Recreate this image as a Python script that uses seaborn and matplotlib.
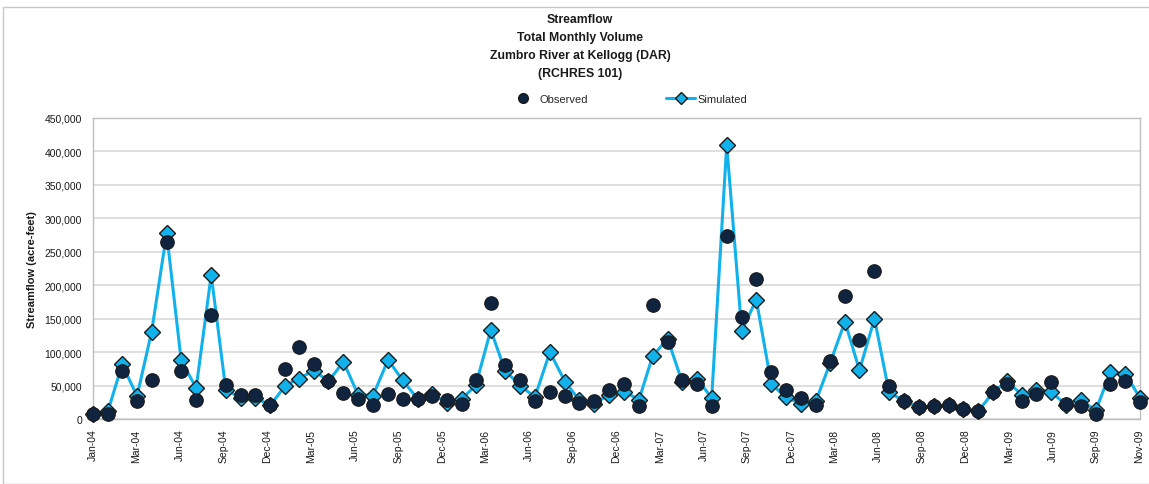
import pandas as pd
import matplotlib.pyplot as plt
import matplotlib.dates as mdates
from matplotlib.ticker import FuncFormatter, MultipleLocator
from matplotlib.lines import Line2D
from matplotlib.patches import Rectangle
import seaborn as sns

# Monthly totals, Jan 2004 - Dec 2009 (acre-feet)
observed = [7000, 8000, 72500, 27500, 59000, 264000, 72500, 29000, 155000, 51500, 36500, 36500,
            20500, 75000, 107500, 81500, 56500, 38500, 30000, 21500, 37500, 30500, 30000, 34000,
            28000, 23000, 58000, 174000, 80500, 58000, 27500, 40000, 35000, 24000, 26500, 43000,
            53000, 20000, 170500, 115500, 59000, 52500, 20000, 274000, 153000, 210000, 70000, 44000,
            31500, 21500, 86500, 183500, 117500, 221500, 50000, 26500, 17500, 19000, 20500, 15000,
            11500, 40000, 53000, 26500, 38000, 55500, 23000, 19000, 8000, 52500, 56500, 25500]
simulated = [7000, 12000, 81500, 34500, 130500, 277500, 87500, 46500, 215500, 44000, 31500, 31500,
             20500, 50000, 60500, 72500, 56500, 85500, 36500, 35000, 88500, 58000, 30000, 37500,
             24000, 30500, 50500, 133000, 71500, 50000, 32500, 100000, 56000, 28000, 23000, 36500,
             41000, 29000, 94000, 120000, 55500, 60000, 31500, 410000, 131500, 178500, 52500, 32500,
             23000, 26500, 83000, 145500, 73000, 150000, 40000, 26500, 17500, 19000, 20500, 15000,
             11500, 40000, 56500, 36500, 44000, 40000, 21500, 28000, 13000, 70500, 67500, 31500]
months = pd.date_range("2004-01-01", periods=len(observed), freq="MS")

title_lines = ["Streamflow", "Total Monthly Volume", "Zumbro River at Kellogg (DAR)", "(RCHRES 101)"]

SIM_BLUE = "#11B2EC"
OBS_NAVY = "#10233F"
GRID_GRAY = "#D9D9D9"
TEXT = "#1A1A1A"

df = pd.DataFrame({"month": months, "Observed": observed, "Simulated": simulated})

sns.set_style("white")
plt.rcParams["font.family"] = ["Liberation Sans Narrow", "Liberation Sans", "DejaVu Sans"]

fig = plt.figure(figsize=(11.49, 4.85), dpi=100)
W, H = 1149, 485
ax = fig.add_axes([93 / W, 1 - 420 / H, (1140 - 93) / W, (420 - 119) / H])

# thin chart-area border like the Excel export
fig.patches.append(Rectangle((3 / W, 0), 1.0, 1 - 8 / H, transform=fig.transFigure,
                             fill=False, edgecolor="#C8C8C8", linewidth=1.0))

# simulated line with diamonds, observed dots on top
sns.lineplot(data=df, x="month", y="Simulated", ax=ax, color=SIM_BLUE, linewidth=2.2,
             marker="D", markersize=8, markerfacecolor=SIM_BLUE, markeredgecolor="#1A1A1A",
             markeredgewidth=1.0, clip_on=False, zorder=3)
sns.scatterplot(data=df, x="month", y="Observed", ax=ax, color=OBS_NAVY, s=95,
                edgecolor="#1A1A1A", linewidth=0.8, clip_on=False, zorder=4)

# axis: ticks every 90 days from the first month (Excel date axis)
start = months[0]
xticks = [start + pd.Timedelta(days=90 * k) for k in range(25)]
ax.set_xticks(xticks)
ax.xaxis.set_major_formatter(mdates.DateFormatter("%b-%y"))
ax.set_xlim(start, months[-1])
ax.set_ylim(0, 450000)
ax.yaxis.set_major_locator(MultipleLocator(50000))
ax.yaxis.set_major_formatter(FuncFormatter(lambda v, p: f"{int(v):,}"))

ax.grid(axis="y", color=GRID_GRAY, linewidth=1.2)
ax.set_axisbelow(True)
for side in ["top", "right", "left", "bottom"]:
    ax.spines[side].set_color("#BFBFBF")
    ax.spines[side].set_linewidth(1.0)

ax.tick_params(axis="x", rotation=90, labelsize=7.5, colors="#BFBFBF", labelcolor=TEXT,
               length=5, width=1, direction="out", pad=2)
ax.tick_params(axis="y", labelsize=7.5, colors="#BFBFBF", labelcolor=TEXT,
               length=5, width=1, direction="out", pad=3)
ax.set_xlabel("")
ax.set_ylabel("Streamflow (acre-feet)", fontsize=8, fontweight="bold", color=TEXT, labelpad=5)

fig.text(580 / W, 1 - 47 / H, "\n".join(title_lines), ha="center", va="center",
         fontsize=8.8, fontweight="bold", color=TEXT, linespacing=1.65)

# legend across the top
handles = [
    Line2D([], [], linestyle="none", marker="o", markersize=7, markerfacecolor=OBS_NAVY,
           markeredgecolor="#1A1A1A"),
    Line2D([], [], color=SIM_BLUE, linewidth=2.2, marker="D", markersize=6,
           markerfacecolor=SIM_BLUE, markeredgecolor="#1A1A1A"),
]
fig.legend(handles, ["Observed", "Simulated"], loc="center", bbox_to_anchor=(628 / W, 1 - 100 / H),
           ncol=2, frameon=False, fontsize=8, columnspacing=7.0, handlelength=2.6,
           handletextpad=0.2)

fig.savefig("out.png", dpi=100, facecolor="white")
